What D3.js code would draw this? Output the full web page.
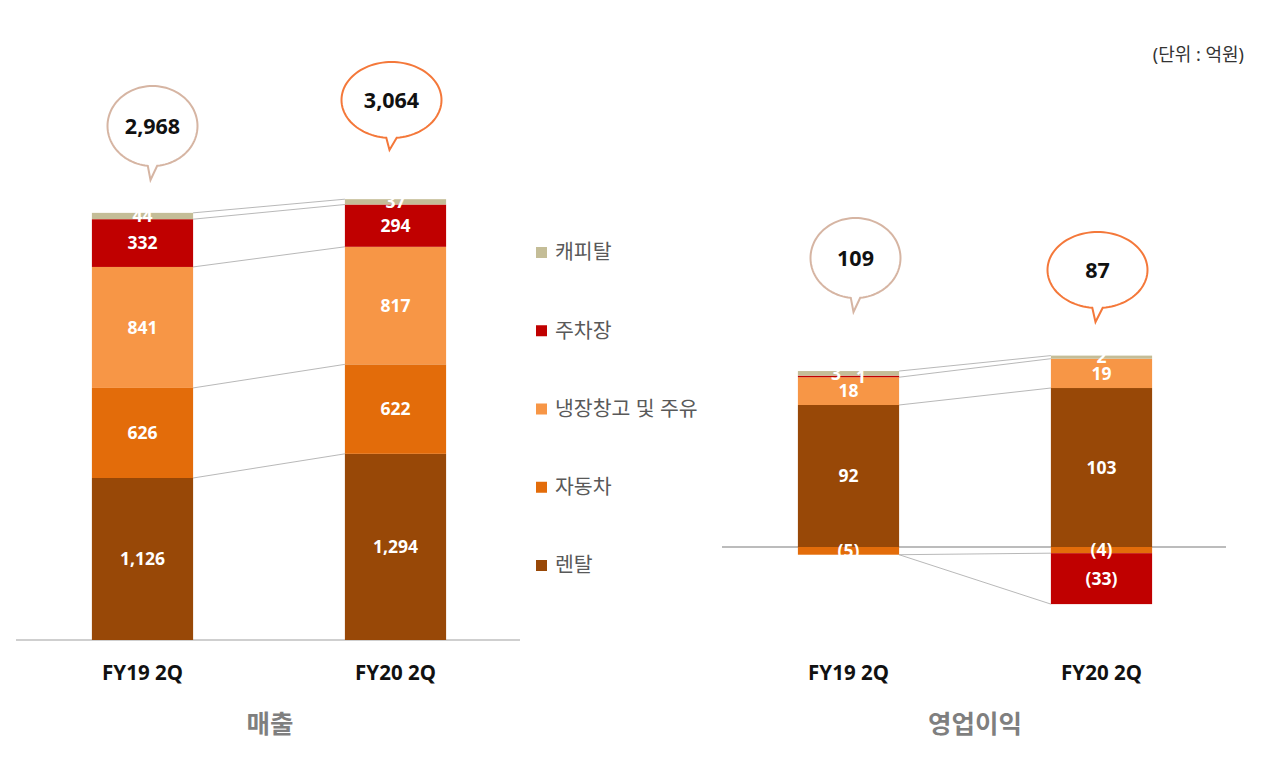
<!DOCTYPE html>
<html>
<head>
<meta charset="utf-8">
<script src="https://cdn.jsdelivr.net/npm/d3@7"></script>
<style>
  body { margin: 0; background: #fff; }
  svg { font-family: "Noto Sans", "Noto Sans CJK KR", sans-serif; }
</style>
</head>
<body>
<svg id="chart" width="1280" height="766"></svg>
<script>
// data
var categories = ["FY19 2Q", "FY20 2Q"];
var seriesNames = ["렌탈", "자동차", "냉장창고 및 주유", "주차장", "캐피탈"];
var seriesColors = ["#984807", "#e36c0a", "#f79646", "#c00000", "#c4bd97"];

var salesRental = [1126, 1294];
var salesAuto = [626, 622];
var salesCold = [841, 817];
var salesParking = [332, 294];
var salesCapital = [44, 37];
var salesTotals = [2968, 3064];

var profitRental = [92, 103];
var profitAuto = [-5, -4];
var profitCold = [18, 19];
var profitParking = [1, -33];
var profitCapital = [3, 2];
var profitTotals = [109, 87];

var svg = d3.select("#chart");
var fmt = d3.format(",");

function toRows(cols) {
  return categories.map(function(c, i) {
    var row = { cat: c };
    seriesNames.forEach(function(s, j) { row[s] = cols[j][i]; });
    return row;
  });
}

// bubble path: ellipse with a little tail pointing down
function bubblePath(cx, cy, rx, ry, tipX, tipY) {
  var pts = [];
  var start = 84 * Math.PI / 180, end = (96 - 360) * Math.PI / 180;
  d3.range(0, 101).forEach(function(k) {
    var a = start + (end - start) * k / 100;
    pts.push([cx + rx * Math.cos(a), cy + ry * Math.sin(a)]);
  });
  pts.push([tipX, tipY]);
  return d3.line()(pts) + "Z";
}

function drawPanel(opt) {
  var rows = toRows(opt.cols);
  var x = d3.scaleBand().domain(categories).range(opt.xRange)
    .paddingInner(0.6).paddingOuter(0.3);
  var y = d3.scaleLinear().domain(opt.yDomain).range(opt.yRange);
  var stacked = d3.stack().keys(seriesNames).offset(d3.stackOffsetDiverging)(rows);
  var g = svg.append("g");
  var bw = x.bandwidth();

  // baseline
  g.append("line")
    .attr("x1", opt.xRange[0]).attr("x2", opt.xRange[1] - 2)
    .attr("y1", y(0)).attr("y2", y(0))
    .attr("stroke", opt.axisColor).attr("stroke-width", 1.3);

  // connectors between the two bars
  var xa = x(categories[0]) + bw, xb = x(categories[1]);
  stacked.forEach(function(s) {
    var a = s[0], b = s[1];
    var va = a.data[s.key], vb = b.data[s.key];
    if (va === 0 || vb === 0 || (va > 0) !== (vb > 0)) return;
    var ea = va > 0 ? a[1] : a[0], eb = vb > 0 ? b[1] : b[0];
    g.append("line")
      .attr("x1", xa).attr("y1", y(ea)).attr("x2", xb).attr("y2", y(eb))
      .attr("stroke", "#b0b0b0").attr("stroke-width", 0.9);
  });
  var mins = categories.map(function(c, i) {
    return d3.min(stacked, function(s) { return s[i][0]; });
  });
  if (mins[0] < 0 || mins[1] < 0) {
    g.append("line")
      .attr("x1", xa).attr("y1", y(mins[0])).attr("x2", xb).attr("y2", y(mins[1]))
      .attr("stroke", "#b0b0b0").attr("stroke-width", 0.9);
  }

  // bars
  stacked.forEach(function(s, si) {
    g.selectAll(null).data(s).enter().append("rect")
      .attr("x", function(d) { return x(d.data.cat); })
      .attr("width", bw)
      .attr("y", function(d) { return y(Math.max(d[0], d[1])); })
      .attr("height", function(d) { return Math.abs(y(d[0]) - y(d[1])); })
      .attr("fill", seriesColors[si]);
  });

  // labels
  categories.forEach(function(c, i) {
    var items = stacked.map(function(s) {
      var d = s[i];
      var y0 = y(d[0]), y1 = y(d[1]);
      return { v: d.data[s.key], cy: (y0 + y1) / 2, h: Math.abs(y0 - y1) };
    });
    var tiny = items.filter(function(t) { return t.h < 8 && t.v > 0; })
      .sort(function(p, q) { return p.cy - q.cy; });
    items.forEach(function(t) {
      t.dx = 0;
      var k = tiny.indexOf(t);
      if (k >= 0 && tiny.length > 1) t.dx = (k - (tiny.length - 1) / 2) * 25;
    });
    g.selectAll(null).data(items).enter().append("text")
      .attr("x", function(t) { return x(c) + bw / 2 + t.dx; })
      .attr("y", function(t) { return t.cy; })
      .attr("dy", "0.36em")
      .attr("text-anchor", "middle")
      .attr("fill", "#fff")
      .attr("font-size", 17.5)
      .attr("font-weight", "bold")
      .text(function(t) { return t.v < 0 ? "(" + fmt(-t.v) + ")" : fmt(t.v); });

    // category label
    g.append("text")
      .attr("x", x(c) + bw / 2).attr("y", 680)
      .attr("text-anchor", "middle")
      .attr("font-size", 20.5).attr("font-weight", "bold").attr("fill", "#111")
      .text(c);

    // callout bubble
    var b = opt.bubbles[i];
    var cx = x(c) + bw / 2 + b.dx;
    g.append("path")
      .attr("d", bubblePath(cx, b.cy, b.rx, b.ry, cx - 2, b.tip))
      .attr("fill", "#fff").attr("stroke", b.color).attr("stroke-width", 2);
    g.append("text")
      .attr("x", cx).attr("y", b.cy).attr("dy", "0.36em")
      .attr("text-anchor", "middle")
      .attr("font-size", 21.5).attr("font-weight", "bold").attr("fill", "#111")
      .text(fmt(opt.totals[i]));
  });

  // panel title
  g.append("text")
    .attr("x", opt.titleX).attr("y", 733)
    .attr("text-anchor", "middle")
    .attr("font-size", 25.5).attr("font-weight", "bold").attr("fill", "#7f7f7f")
    .text(opt.title);
}

drawPanel({
  cols: [salesRental, salesAuto, salesCold, salesParking, salesCapital],
  totals: salesTotals,
  xRange: [16, 522],
  yDomain: [0, 2968],
  yRange: [640, 213],
  axisColor: "#bfbfbf",
  title: "매출",
  titleX: 270,
  bubbles: [
    { cy: 126, rx: 45, ry: 40, tip: 180, dx: 10, color: "#d6b5a3" },
    { cy: 100, rx: 50, ry: 38, tip: 150, dx: -4, color: "#f4783a" }
  ]
});

drawPanel({
  cols: [profitRental, profitAuto, profitCold, profitParking, profitCapital],
  totals: profitTotals,
  xRange: [722, 1228],
  yDomain: [0, 92],
  yRange: [547, 405],
  axisColor: "#a6a6a6",
  title: "영업이익",
  titleX: 975,
  bubbles: [
    { cy: 258, rx: 45, ry: 40, tip: 312, dx: 7, color: "#d6b5a3" },
    { cy: 270, rx: 50, ry: 38, tip: 322, dx: -4, color: "#f4783a" }
  ]
});

// legend
var legendY = d3.scalePoint().domain(seriesNames.slice().reverse()).range([252, 565]);
var lg = svg.append("g");
seriesNames.forEach(function(s, i) {
  var yy = legendY(s);
  lg.append("rect").attr("x", 536).attr("y", yy - 5).attr("width", 11).attr("height", 11)
    .attr("fill", seriesColors[i]);
  lg.append("text").attr("x", 555).attr("y", yy).attr("dy", "0.36em")
    .attr("font-size", 20.5).attr("fill", "#595959")
    .text(s);
});

// unit
svg.append("text")
  .attr("x", 1244).attr("y", 61)
  .attr("text-anchor", "end")
  .attr("font-size", 18).attr("fill", "#333")
  .text("(단위 : 억원)");
</script>
</body>
</html>
